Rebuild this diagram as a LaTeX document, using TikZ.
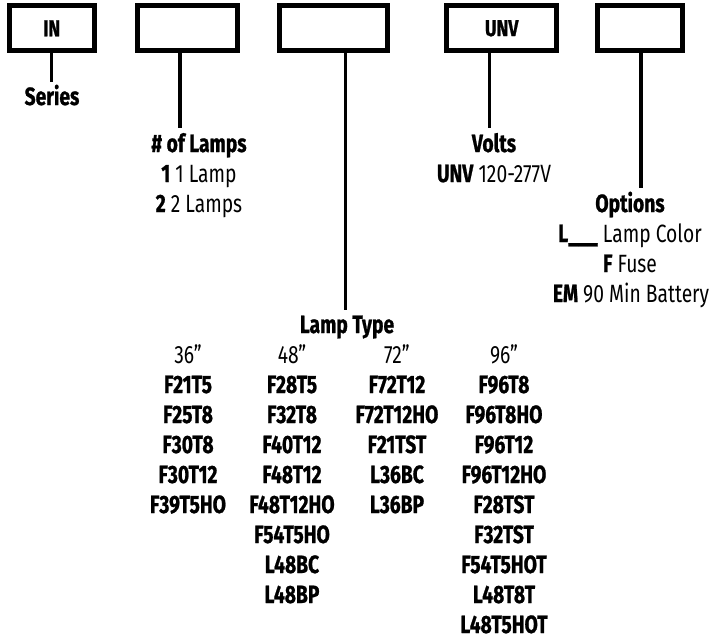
\documentclass[tikz,border=0pt]{standalone}
\usepackage{fontspec}
\setmainfont{Fira Sans}[FakeStretch=0.77, BoldFeatures={FakeBold=0.9}]
\begin{document}
\begin{tikzpicture}[x=1pt,y=-1pt,
  codebox/.style={draw, line width=5pt, minimum height=45pt, inner sep=0pt, font=\fontsize{23}{28}\selectfont\bfseries},
  conn/.style={line width=3.3pt},
  hd/.style={anchor=base, inner sep=0pt, font=\fontsize{25}{30}\selectfont\bfseries},
  tx/.style={anchor=base, inner sep=0pt, font=\fontsize{25}{30}\selectfont},
  bx/.style={anchor=base, inner sep=0pt, font=\fontsize{25}{30}\selectfont\bfseries}]
\useasboundingbox (0,0) rectangle (710,640);
% boxes
\node[codebox, minimum width=85pt] (b1) at (51.7,28.3) {IN};
\node[codebox, minimum width=100pt] (b2) at (187.5,28.3) {};
\node[codebox, minimum width=108.3pt] (b3) at (333.3,28.3) {};
\node[codebox, minimum width=109.7pt] (b4) at (501.7,28.3) {UNV};
\node[codebox, minimum width=85pt] (b5) at (640,28.3) {};
% connector ends
\coordinate (e1) at (51.7,82);
\coordinate (e2) at (180,128);
\coordinate (e3) at (345.5,310);
\coordinate (e4) at (489.3,128);
\coordinate (e5) at (641,188);
\draw[conn] (b1.south -| e1) -- (e1);
\draw[conn] (b2.south -| e2) -- (e2);
\draw[conn] (b3.south -| e3) -- (e3);
\draw[conn] (b4.south -| e4) -- (e4);
\draw[conn] (b5.south -| e5) -- (e5);
% Series
\node[hd] (series) at (52,105) {Series};
% # of lamps
\node[hd] (nl) at (199,152) {\# of Lamps};
\node[tx] (nl1) at (199,182) {\textbf{1} 1 Lamp};
\node[tx] (nl2) at (199,212) {\textbf{2} 2 Lamps};
% Volts
\node[hd] (volts) at (494,152) {Volts};
\node[tx] (v1) at (494,182) {\textbf{UNV} 120-277V};
% Options
\node[hd] (opt) at (630,212) {Options};
\node[tx] (o1) at (630,242) {\textbf{L\_\_\_} Lamp Color};
\node[tx] (o2) at (630,272) {\textbf{F} Fuse};
\node[tx] (o3) at (631,302) {\textbf{EM} 90 Min Battery};
% Lamp type
\node[hd] (lt) at (347,333) {Lamp Type};
\node[tx] (c1h) at (188,363) {36"};
\node[tx] (c2h) at (292,363) {48"};
\node[tx] (c3h) at (397,363) {72"};
\node[tx] (c4h) at (504,363) {96"};
\foreach \t [count=\i from 0] in {F21T5,F25T8,F30T8,F30T12,F39T5HO}
  \node[bx] (c1-\i) at (188,393+30*\i) {\t};
\foreach \t [count=\i from 0] in {F28T5,F32T8,F40T12,F48T12,F48T12HO,F54T5HO,L48BC,L48BP}
  \node[bx] (c2-\i) at (292,393+30*\i) {\t};
\foreach \t [count=\i from 0] in {F72T12,F72T12HO,F21TST,L36BC,L36BP}
  \node[bx] (c3-\i) at (397,393+30*\i) {\t};
\foreach \t [count=\i from 0] in {F96T8,F96T8HO,F96T12,F96T12HO,F28TST,F32TST,F54T5HOT,L48T8T,L48T5HOT}
  \node[bx] (c4-\i) at (504,393+30*\i) {\t};
\end{tikzpicture}
\end{document}
